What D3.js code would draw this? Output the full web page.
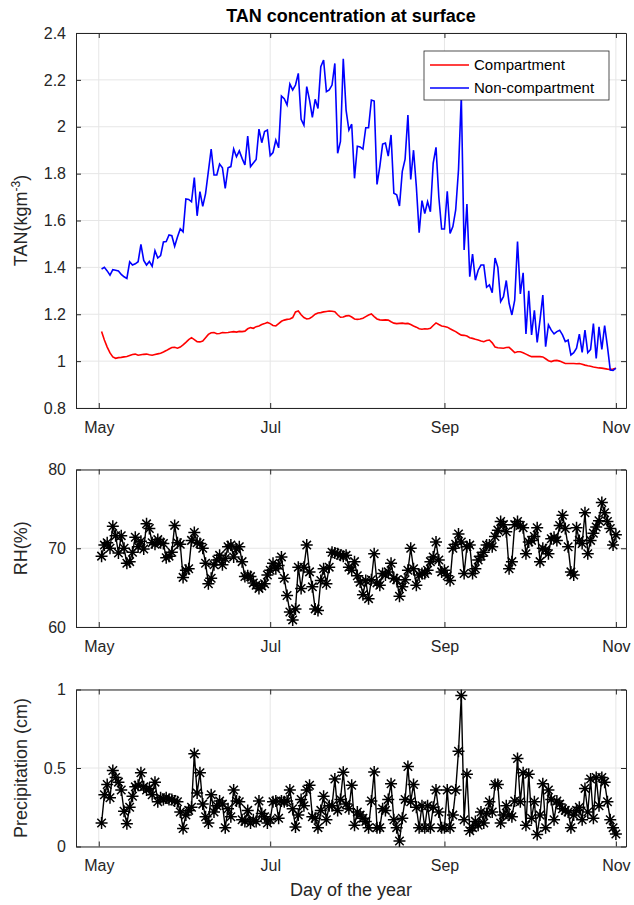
<!DOCTYPE html>
<html>
<head>
<meta charset="utf-8">
<script src="https://cdn.jsdelivr.net/npm/d3@7"></script>
<style>
   body { margin: 0; background: #fff; }
   svg { display: block; font-family: "Liberation Sans", Arial, Helvetica, sans-serif; }
</style>
</head>
<body>
<div id="chart"></div>
<script>
// first sample day (day of year) - one sample per day
const FirstDay = 122;

// month ticks (day of year) and their labels
const MonthTicks = [121, 182, 244, 305];
const MonthLabels = ['May', 'Jul', 'Sep', 'Nov'];

// TAN concentration, compartment model
const TanCompartment = [
   1.126, 1.090, 1.060, 1.035, 1.018, 1.012, 1.015, 1.016, 1.018, 1.020,
   1.024, 1.028, 1.030, 1.025, 1.027, 1.029, 1.030, 1.027, 1.025, 1.028,
   1.031, 1.034, 1.039, 1.045, 1.052, 1.058, 1.059, 1.055, 1.060, 1.069,
   1.080, 1.092, 1.100, 1.092, 1.083, 1.082, 1.086, 1.100, 1.114, 1.121,
   1.122, 1.117, 1.118, 1.122, 1.121, 1.122, 1.124, 1.126, 1.124, 1.127,
   1.126, 1.128, 1.138, 1.143, 1.140, 1.147, 1.150, 1.156, 1.160, 1.165,
   1.160, 1.152, 1.150, 1.160, 1.170, 1.175, 1.178, 1.180, 1.186, 1.210,
   1.214, 1.198, 1.186, 1.180, 1.182, 1.190, 1.200, 1.205, 1.207, 1.210,
   1.212, 1.214, 1.213, 1.211, 1.198, 1.187, 1.188, 1.193, 1.194, 1.188,
   1.180, 1.178, 1.180, 1.183, 1.190, 1.197, 1.201, 1.190, 1.180, 1.176,
   1.175, 1.176, 1.175, 1.168, 1.162, 1.160, 1.161, 1.162, 1.160, 1.161,
   1.156, 1.150, 1.145, 1.138, 1.136, 1.138, 1.137, 1.140, 1.152, 1.163,
   1.156, 1.150, 1.148, 1.145, 1.138, 1.132, 1.126, 1.118, 1.111, 1.110,
   1.107, 1.100, 1.097, 1.093, 1.090, 1.086, 1.083, 1.088, 1.090, 1.078,
   1.060, 1.057, 1.056, 1.055, 1.058, 1.059, 1.048, 1.036, 1.040, 1.040,
   1.036, 1.030, 1.024, 1.019, 1.019, 1.020, 1.019, 1.018, 1.010, 1.002,
   0.998, 1.002, 1.003, 1.000, 0.995, 0.990, 0.990, 0.990, 0.990, 0.989,
   0.990, 0.987, 0.983, 0.980, 0.978, 0.975, 0.973, 0.971, 0.970, 0.968,
   0.966, 0.965, 0.966, 0.970
];

// TAN concentration, non-compartment model
const TanNonCompartment = [
   1.393, 1.400, 1.385, 1.367, 1.390, 1.388, 1.385, 1.370, 1.360, 1.353,
   1.424, 1.410, 1.415, 1.424, 1.498, 1.430, 1.410, 1.425, 1.405, 1.471,
   1.440, 1.450, 1.508, 1.510, 1.538, 1.535, 1.490, 1.530, 1.565, 1.552,
   1.692, 1.690, 1.680, 1.783, 1.620, 1.723, 1.660, 1.715, 1.810, 1.905,
   1.794, 1.794, 1.841, 1.825, 1.737, 1.825, 1.830, 1.905, 1.872, 1.897,
   1.865, 1.837, 1.960, 1.830, 1.845, 1.860, 1.990, 1.932, 1.980, 1.986,
   1.877, 1.890, 1.943, 1.910, 2.131, 2.120, 2.093, 2.182, 2.157, 2.178,
   2.228, 2.032, 2.007, 2.171, 2.114, 2.040, 2.117, 2.078, 2.256, 2.285,
   2.150, 2.157, 2.178, 2.270, 1.887, 1.937, 2.290, 2.071, 1.986, 2.011,
   1.780, 1.917, 1.914, 1.905, 1.996, 1.996, 2.114, 2.110, 1.754, 1.830,
   1.926, 1.930, 1.875, 1.965, 1.716, 1.710, 1.662, 1.810, 1.862, 2.050,
   1.775, 1.900, 1.745, 1.548, 1.685, 1.630, 1.680, 1.637, 1.845, 1.912,
   1.700, 1.564, 1.564, 1.725, 1.545, 1.574, 1.645, 1.816, 2.130, 1.474,
   1.670, 1.360, 1.457, 1.345, 1.388, 1.410, 1.410, 1.315, 1.325, 1.292,
   1.440, 1.400, 1.254, 1.275, 1.344, 1.247, 1.197, 1.260, 1.510, 1.287,
   1.377, 1.116, 1.300, 1.112, 1.217, 1.080, 1.175, 1.282, 1.062, 1.155,
   1.132, 1.116, 1.126, 1.132, 1.112, 1.083, 1.090, 1.026, 1.036, 1.055,
   1.115, 1.037, 1.132, 1.036, 1.050, 1.160, 1.012, 1.146, 1.050, 1.152,
   1.062, 0.962, 0.960, 0.970
];

// relative humidity (%)
const RelHumidity = [
   69.0, 70.4, 70.7, 70.0, 72.8, 71.6, 69.4, 71.6, 70.0, 68.1,
   68.3, 69.5, 71.4, 70.2, 70.9, 69.9, 73.1, 72.5, 70.7, 70.5,
   71.1, 70.7, 70.6, 68.8, 69.0, 69.5, 72.9, 70.7, 70.5, 66.3,
   67.2, 67.4, 71.0, 72.0, 70.7, 70.6, 70.0, 68.1, 65.5, 66.2,
   67.9, 68.5, 69.1, 67.9, 68.7, 70.2, 70.4, 68.9, 69.9, 70.2,
   68.3, 66.4, 66.5, 66.4, 65.6, 65.3, 64.9, 65.2, 65.5, 66.6,
   67.2, 68.1, 67.4, 67.8, 68.9, 66.2, 64.0, 61.9, 60.9, 62.3,
   67.6, 64.9, 67.6, 70.4, 67.0, 65.1, 62.3, 62.1, 65.9, 67.4,
   65.5, 67.6, 69.5, 69.4, 69.3, 69.1, 69.0, 69.1, 67.6, 67.2,
   68.3, 66.5, 65.7, 64.1, 65.9, 63.6, 66.0, 69.3, 65.6, 65.3,
   66.8, 66.6, 67.0, 68.1, 66.2, 66.0, 63.9, 65.1, 66.0, 67.2,
   70.0, 67.4, 65.3, 66.6, 66.8, 66.8, 67.2, 68.3, 68.9, 70.8,
   68.5, 67.0, 67.2, 66.5, 65.9, 70.0, 70.5, 71.8, 70.8, 66.8,
   70.2, 70.4, 66.8, 67.4, 68.5, 69.0, 69.5, 70.4, 70.4, 70.2,
   71.5, 72.3, 73.4, 73.0, 72.1, 67.4, 68.3, 73.0, 73.4, 72.9,
   72.6, 69.3, 70.8, 71.0, 71.5, 72.6, 68.3, 70.0, 69.8, 69.3,
   71.2, 71.4, 71.0, 72.9, 74.2, 72.5, 70.2, 67.0, 66.6, 72.6,
   71.0, 70.6, 74.5, 69.3, 71.0, 71.9, 72.7, 73.5, 75.8, 74.5,
   73.4, 72.5, 70.4, 71.7
];

// precipitation (cm)
const Precipitation = [
   0.15, 0.33, 0.395, 0.31, 0.484, 0.44, 0.41, 0.36, 0.225, 0.145,
   0.25, 0.32, 0.38, 0.39, 0.47, 0.38, 0.36, 0.37, 0.33, 0.41,
   0.285, 0.31, 0.30, 0.31, 0.30, 0.30, 0.29, 0.285, 0.22, 0.115,
   0.20, 0.23, 0.25, 0.59, 0.34, 0.47, 0.27, 0.19, 0.15, 0.33,
   0.22, 0.26, 0.29, 0.27, 0.12, 0.24, 0.19, 0.36, 0.29, 0.285,
   0.17, 0.16, 0.23, 0.15, 0.17, 0.16, 0.29, 0.21, 0.19, 0.15,
   0.17, 0.285, 0.29, 0.18, 0.29, 0.285, 0.29, 0.36, 0.24, 0.125,
   0.20, 0.30, 0.26, 0.36, 0.39, 0.19, 0.18, 0.12, 0.23, 0.32,
   0.17, 0.26, 0.26, 0.43, 0.23, 0.30, 0.473, 0.27, 0.24, 0.39,
   0.135, 0.22, 0.20, 0.18, 0.16, 0.12, 0.29, 0.475, 0.12, 0.12,
   0.24, 0.23, 0.30, 0.40, 0.17, 0.12, 0.035, 0.18, 0.30, 0.51,
   0.285, 0.395, 0.25, 0.12, 0.26, 0.12, 0.26, 0.12, 0.25, 0.36,
   0.22, 0.12, 0.12, 0.36, 0.12, 0.20, 0.36, 0.607, 0.962, 0.17,
   0.46, 0.10, 0.12, 0.16, 0.135, 0.22, 0.15, 0.21, 0.285, 0.22,
   0.395, 0.395, 0.15, 0.20, 0.26, 0.20, 0.19, 0.29, 0.56, 0.285,
   0.47, 0.135, 0.46, 0.18, 0.285, 0.076, 0.20, 0.40, 0.12, 0.36,
   0.30, 0.17, 0.29, 0.27, 0.24, 0.23, 0.22, 0.12, 0.20, 0.23,
   0.25, 0.17, 0.37, 0.22, 0.43, 0.18, 0.44, 0.26, 0.44, 0.41,
   0.285, 0.17, 0.12, 0.08
];

// y tick values
const TanTicks = [0.8, 1, 1.2, 1.4, 1.6, 1.8, 2, 2.2, 2.4];
const RhTicks = [60, 70, 80];
const PrecipTicks = [0, 0.5, 1];

// legend names and colours
const SeriesNames = ['Compartment', 'Non-compartment'];
const SeriesColors = ['#ff0000', '#0000ff'];

const Width = 634;
const Height = 905;
const Left = 76;
const Right = 626;
const AxisColor = '#262626';
const GridColor = '#e6e6e6';

const svg = d3.select('#chart').append('svg')
   .attr('width', Width)
   .attr('height', Height);

svg.append('rect').attr('width', Width).attr('height', Height).attr('fill', '#fff');

const x = d3.scaleLinear().domain([112.9, 308.6]).range([Left, Right]);

const toPoints = (values) => values.map((v, i) => [FirstDay + i, v]);

// grid, frame and ticks of one panel
function makePanel(top, bottom, domain, ticks) {
   const y = d3.scaleLinear().domain(domain).range([bottom, top]);
   const g = svg.append('g');

   g.selectAll('line.gx').data(MonthTicks).enter().append('line')
      .attr('x1', (d) => x(d)).attr('x2', (d) => x(d))
      .attr('y1', top).attr('y2', bottom)
      .attr('stroke', GridColor);
   g.selectAll('line.gy').data(ticks).enter().append('line')
      .attr('x1', Left).attr('x2', Right)
      .attr('y1', (d) => y(d)).attr('y2', (d) => y(d))
      .attr('stroke', GridColor);

   return { y, top, bottom, data: svg.append('g'), frame: svg.append('g') };
}

function drawFrame(p, ticks, fmt) {
   const f = p.frame;
   const styleAxis = (sel) => {
      sel.selectAll('path, line').attr('stroke', AxisColor);
      sel.selectAll('text').attr('fill', AxisColor).attr('font-size', 16);
   };

   f.append('g').attr('transform', `translate(0,${p.bottom})`)
      .call(d3.axisBottom(x).tickValues(MonthTicks)
         .tickFormat((d, i) => MonthLabels[i])
         .tickSizeInner(-5).tickSizeOuter(0).tickPadding(13.5))
      .call(styleAxis);
   f.append('g').attr('transform', `translate(0,${p.top})`)
      .call(d3.axisTop(x).tickValues(MonthTicks).tickFormat('')
         .tickSizeInner(-5).tickSizeOuter(0))
      .call(styleAxis);
   f.append('g').attr('transform', `translate(${Left},0)`)
      .call(d3.axisLeft(p.y).tickValues(ticks).tickFormat(fmt)
         .tickSizeInner(-5).tickSizeOuter(0).tickPadding(10))
      .call(styleAxis);
   f.append('g').attr('transform', `translate(${Right},0)`)
      .call(d3.axisRight(p.y).tickValues(ticks).tickFormat('')
         .tickSizeInner(-5).tickSizeOuter(0))
      .call(styleAxis);
   f.selectAll('.domain').attr('stroke-width', 1);
}

// black line with asterisk markers
function drawStars(p, values) {
   const pts = toPoints(values);
   const line = d3.line().x((d) => x(d[0])).y((d) => p.y(d[1]));
   p.data.append('path')
      .attr('d', line(pts))
      .attr('fill', 'none')
      .attr('stroke', '#000')
      .attr('stroke-width', 1.4);

   const r = 6;
   const a = r * 0.7071;
   const star = `M${-r},0L${r},0M0,${-r}L0,${r}M${-a},${-a}L${a},${a}M${-a},${a}L${a},${-a}`;
   p.data.selectAll(null).data(pts).enter().append('path')
      .attr('transform', (d) => `translate(${x(d[0])},${p.y(d[1])})`)
      .attr('d', star)
      .attr('fill', 'none')
      .attr('stroke', '#000')
      .attr('stroke-width', 1.5);
}

function yLabel(cy, text) {
   return svg.append('text')
      .attr('transform', `translate(27,${cy}) rotate(-90)`)
      .attr('text-anchor', 'middle')
      .attr('font-size', 18)
      .attr('fill', AxisColor)
      .text(text);
}

// top panel: TAN concentration
const tan = makePanel(33, 408, [0.8, 2.4], TanTicks);
const tanLine = d3.line().x((d) => x(d[0])).y((d) => tan.y(d[1]));
[TanCompartment, TanNonCompartment].forEach((values, i) => {
   tan.data.append('path')
      .attr('d', tanLine(toPoints(values)))
      .attr('fill', 'none')
      .attr('stroke', SeriesColors[i])
      .attr('stroke-width', 1.6);
});
drawFrame(tan, TanTicks, (d) => d3.format('')(d));

// legend
const legend = svg.append('g').attr('transform', 'translate(424,51)');
legend.append('rect')
   .attr('width', 185).attr('height', 49)
   .attr('fill', '#fff').attr('stroke', AxisColor).attr('stroke-width', 0.8);
SeriesNames.forEach((name, i) => {
   const ly = 14 + i * 23;
   legend.append('line')
      .attr('x1', 6).attr('x2', 45).attr('y1', ly).attr('y2', ly)
      .attr('stroke', SeriesColors[i]).attr('stroke-width', 1.6);
   legend.append('text')
      .attr('x', 50).attr('y', ly + 5)
      .attr('font-size', 15)
      .attr('fill', '#000')
      .text(name);
});

// middle panel: relative humidity
const rh = makePanel(469.5, 627, [60, 80], RhTicks);
drawStars(rh, RelHumidity);
drawFrame(rh, RhTicks, (d) => d);

// bottom panel: precipitation
const pr = makePanel(689.5, 846.5, [0, 1], PrecipTicks);
drawStars(pr, Precipitation);
drawFrame(pr, PrecipTicks, (d) => d3.format('')(d));

// titles and labels
svg.append('text')
   .attr('x', 351).attr('y', 22)
   .attr('text-anchor', 'middle')
   .attr('font-size', 18)
   .attr('font-weight', 'bold')
   .attr('fill', '#000')
   .text('TAN concentration at surface');

const tanLabel = yLabel((33 + 408) / 2, 'TAN(kgm');
tanLabel.append('tspan').attr('font-size', 12).attr('dy', -7).text('-3');
tanLabel.append('tspan').attr('dy', 7).text(')');
yLabel((469.5 + 627) / 2, 'RH(%)');
yLabel((689.5 + 846.5) / 2, 'Precipitation (cm)');

svg.append('text')
   .attr('x', 351).attr('y', 896)
   .attr('text-anchor', 'middle')
   .attr('font-size', 18)
   .attr('fill', AxisColor)
   .text('Day of the year');
</script>
</body>
</html>
